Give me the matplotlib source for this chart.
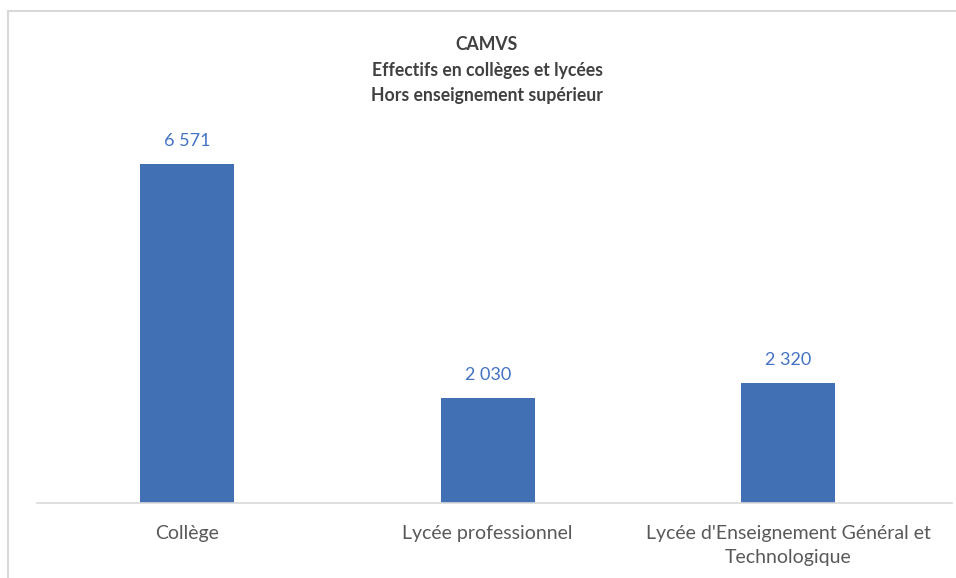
import matplotlib.pyplot as plt
from matplotlib.lines import Line2D

categories = ["Collège", "Lycée professionnel",
              "Lycée d'Enseignement Général et\nTechnologique"]
values = [6571, 2030, 2320]
value_labels = ["6 571", "2 030", "2 320"]

plt.rcParams["font.family"] = ["Lato", "DejaVu Sans"]

fig = plt.figure(figsize=(9.56, 5.78), dpi=100)
W, H = 956, 578

# axes placed in pixel terms: baseline at y=503, top at y=130
ax = fig.add_axes([37 / W, (H - 503) / H, (952 - 37) / W, (503 - 130) / H])

bar_color = "#4170B5"
x = range(len(categories))
bars = ax.bar(x, values, width=0.313, color=bar_color)
for rect, lab in zip(bars, value_labels):
    ax.annotate(lab, (rect.get_x() + rect.get_width() / 2, rect.get_height()),
                xytext=(0, 11), textcoords="offset points", ha="center",
                va="bottom", color="#4472C4", fontsize=13)

ax.set_xlim(-0.5, 2.545)
ax.set_ylim(0, 373 / (339 / 6571))
ax.set_yticks([])
ax.set_xticks(list(x))
ax.set_xticklabels(categories, fontsize=14, color="#595959", linespacing=1.5)
ax.tick_params(axis="x", length=0, pad=15.5)
for s in ["top", "right", "left"]:
    ax.spines[s].set_visible(False)
ax.spines["bottom"].set_color("#D9D9D9")
ax.spines["bottom"].set_linewidth(1.2)

fig.text(487 / W, 1 - 36 / H, "CAMVS\nEffectifs en collèges et lycées\nHors enseignement supérieur",
         ha="center", va="top", fontsize=12.7, fontweight="bold", color="#404040",
         linespacing=1.62)

# outer chart frame
fig.add_artist(Line2D([7.5 / W, 7.5 / W], [0, 1 - 10.5 / H], color="#D9D9D9", lw=1.5))
fig.add_artist(Line2D([7.5 / W, 1], [1 - 10.5 / H, 1 - 10.5 / H], color="#D9D9D9", lw=1.5))

fig.savefig("out.png", dpi=100)
